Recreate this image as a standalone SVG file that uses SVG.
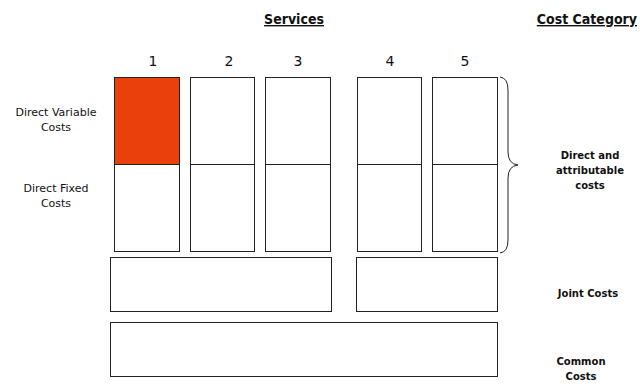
<svg xmlns="http://www.w3.org/2000/svg" width="640" height="390" viewBox="0 0 640 390">
<style>
.box{fill:#fff;stroke:#222;stroke-width:1}
.fill{fill:#EA400C;stroke:#222;stroke-width:1}
.t{font-family:"DejaVu Sans",sans-serif;font-size:11px;fill:#111;text-anchor:middle}
.b{font-family:"DejaVu Sans",sans-serif;font-size:10px;font-weight:bold;fill:#111;text-anchor:middle}
.h{font-family:"DejaVu Sans Condensed","DejaVu Sans",sans-serif;font-stretch:condensed;font-size:14px;font-weight:bold;fill:#111;text-decoration:underline}
.n{font-family:"DejaVu Sans",sans-serif;font-size:14px;fill:#111;text-anchor:middle}
.br{fill:none;stroke:#222;stroke-width:1}
</style>
<text class="h" x="294" y="24" text-anchor="middle">Services</text>
<text class="h" x="637" y="24" font-size="12" text-anchor="end">Cost Category</text>
<g id="numbers">
<text class="n" x="153" y="66">1</text>
<text class="n" x="229" y="66">2</text>
<text class="n" x="298" y="66">3</text>
<text class="n" x="390" y="66">4</text>
<text class="n" x="465" y="66">5</text>
</g>
<g id="labels-left">
<text class="t" x="56" y="116">Direct Variable</text>
<text class="t" x="56" y="131">Costs</text>
<text class="t" x="56" y="192">Direct Fixed</text>
<text class="t" x="56" y="207">Costs</text>
</g>
<g id="col1">
<rect class="fill" x="114.5" y="77.5" width="65" height="87"/>
<rect class="box" x="114.5" y="164.5" width="65" height="87"/>
</g>
<g id="col2">
<rect class="box" x="190.5" y="77.5" width="64" height="87"/>
<rect class="box" x="190.5" y="164.5" width="64" height="87"/>
</g>
<g id="col3">
<rect class="box" x="265.5" y="77.5" width="65" height="87"/>
<rect class="box" x="265.5" y="164.5" width="65" height="87"/>
</g>
<g id="col4">
<rect class="box" x="357.5" y="77.5" width="64" height="87"/>
<rect class="box" x="357.5" y="164.5" width="64" height="87"/>
</g>
<g id="col5">
<rect class="box" x="432.5" y="77.5" width="65" height="87"/>
<rect class="box" x="432.5" y="164.5" width="65" height="87"/>
</g>
<g id="joint1"><rect class="box" x="110.5" y="257.5" width="221" height="54"/></g>
<g id="joint2"><rect class="box" x="356.5" y="257.5" width="141" height="54"/></g>
<g id="common"><rect class="box" x="110.5" y="322.5" width="387" height="54"/></g>
<g id="connectors">
<path class="br" d="M500,77 Q508,78 508,90 L508,152 Q508,164 518,165 Q508,166 508,178 L508,240 Q508,252 500,253"/>
</g>
<g id="labels-right">
<text class="b" x="590" y="159">Direct and</text>
<text class="b" x="590" y="174">attributable</text>
<text class="b" x="590" y="189">costs</text>
<text class="b" x="588" y="297">Joint Costs</text>
<text class="b" x="581" y="365">Common</text>
<text class="b" x="581" y="380">Costs</text>
</g>
</svg>
